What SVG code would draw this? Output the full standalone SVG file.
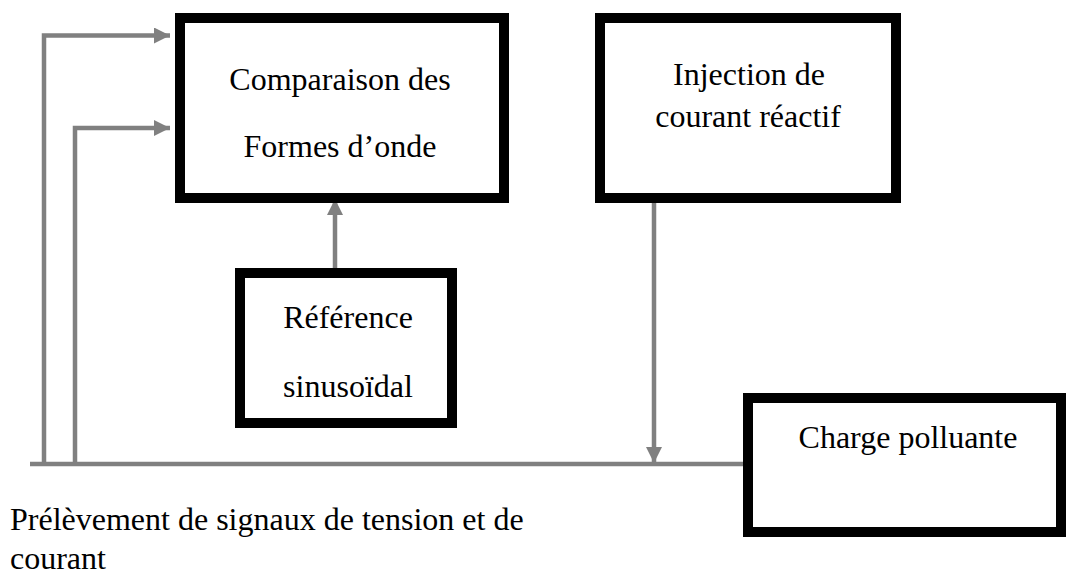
<svg xmlns="http://www.w3.org/2000/svg" width="1066" height="575" viewBox="0 0 1066 575">
<defs>
<style>
.box{fill:#fff;stroke:#000;stroke-width:10}
.t{font-family:"Liberation Serif","Times New Roman",serif;font-size:32px;fill:#000}
.c{text-anchor:middle}
.w{fill:none;stroke:#808080;stroke-width:4.5}
</style>
<marker id="ah" markerUnits="userSpaceOnUse" markerWidth="16" markerHeight="16" viewBox="0 0 16 16" refX="16" refY="8" orient="auto">
<path d="M0,0 L16,8 L0,16 Z" fill="#808080"/>
</marker>
</defs>
<rect width="1066" height="575" fill="#fff"/>
<g id="connectors">
<path class="w" d="M30,464 H747"/>
<path class="w" d="M44,464 V35.5 H170" marker-end="url(#ah)"/>
<path class="w" d="M75,464 V128 H170" marker-end="url(#ah)"/>
<path class="w" d="M335,270 V199" marker-end="url(#ah)"/>
<path class="w" d="M654,198 V463" marker-end="url(#ah)"/>
</g>
<g id="comparaison">
<rect class="box" x="180" y="18" width="324" height="180"/>
<text class="t c" x="340" y="90">Comparaison des</text>
<text class="t c" x="340" y="157">Formes d’onde</text>
</g>
<g id="injection">
<rect class="box" x="600" y="18" width="296" height="180"/>
<text class="t c" x="749" y="85">Injection de</text>
<text class="t c" x="748" y="127">courant réactif</text>
</g>
<g id="reference">
<rect class="box" x="240" y="273" width="212" height="150"/>
<text class="t c" x="348" y="328">Référence</text>
<text class="t c" x="348" y="397">sinusoïdal</text>
</g>
<g id="charge">
<rect class="box" x="748" y="398" width="313" height="134"/>
<text class="t c" x="908" y="448">Charge polluante</text>
</g>
<g id="label">
<text class="t" x="10" y="530">Prélèvement de signaux de tension et de</text>
<text class="t" x="10" y="569">courant</text>
</g>
</svg>
